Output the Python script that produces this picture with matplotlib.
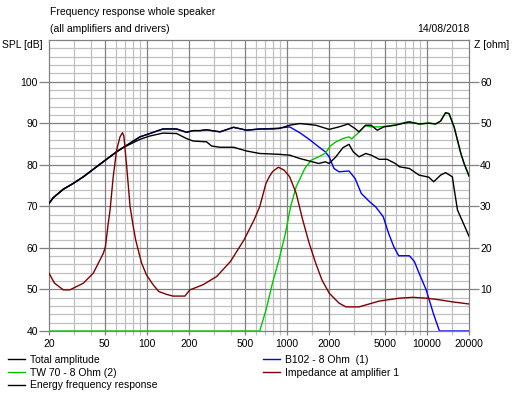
import numpy as np
import matplotlib
matplotlib.use("Agg")
import matplotlib.pyplot as plt
from matplotlib.lines import Line2D

# ---------------- data ----------------
# Total amplitude (dB)
total_f = [20, 21.5, 25.3, 29.8, 35.2, 41.4, 51.5, 60.8, 67.5, 89.2, 105, 130, 163, 192, 214, 240,
           267, 333, 416, 516, 640, 789, 878, 1047, 1236, 1607, 2006, 2360, 2740, 3070, 3280, 3660,
           4000, 4420, 4930, 5950, 7500, 8800, 10330, 11550, 12540, 13600, 14400, 15650, 16550,
           17490, 18450, 20000]
total_db = [70.7, 72.1, 74.1, 75.5, 77.1, 78.9, 81.3, 83.1, 84.1, 86.7, 87.5, 88.6, 88.6, 87.8, 88.2, 88.2,
            88.4, 87.9, 89.0, 88.3, 88.6, 88.6, 88.7, 89.5, 89.9, 89.5, 88.5, 89.1, 89.8, 88.7, 87.9, 89.5,
            89.5, 88.3, 89.1, 89.5, 90.3, 89.8, 90.0, 89.8, 90.5, 92.5, 92.3, 89.1, 85.9,
            82.7, 80.3, 77.3]

# Energy frequency response (dB)
energy_f = [20, 21.5, 25.3, 29.8, 35.2, 41.4, 51.5, 60.8, 67.5, 89.2, 105, 130, 163, 192, 214, 267,
            290, 333, 416, 516, 640, 757, 878, 1047, 1236, 1444, 1688, 1883, 2006, 2240, 2515, 2779,
            2980, 3280, 3660, 4000, 4570, 5200, 5950, 6370, 7500, 8800, 10330, 11190, 12540, 13600,
            15200, 15650, 16550, 18450, 20000]
energy_db = [70.7, 72.1, 74.1, 75.5, 77.1, 78.9, 81.3, 83.1, 84.1, 86.1, 86.9, 87.6, 87.5, 86.3, 85.7, 85.5,
             84.5, 84.2, 84.2, 83.3, 82.7, 82.6, 82.5, 82.3, 81.5, 80.9, 80.3, 80.7, 80.3, 81.9, 84.1, 84.9,
             83.1, 81.9, 82.7, 82.3, 81.3, 81.3, 80.3, 79.5, 79.1, 77.5, 77.0, 75.9, 77.5, 78.1,
             77.1, 74.3, 69.1, 65.5, 62.8]

# B102 - 8 Ohm (1) woofer (dB)
b102_f = [20, 21.5, 25.3, 29.8, 35.2, 41.4, 51.5, 60.8, 67.5, 89.2, 105, 130, 163, 192, 214, 240,
          267, 333, 416, 516, 640, 789, 878, 1047, 1236, 1444, 1688, 1883, 2006, 2170, 2360, 2779,
          3070, 3400, 3900, 4300, 4880, 5330, 5800, 6290, 7500, 8150, 8800, 9890, 11130, 12300, 20000]
b102_db = [70.7, 72.1, 74.1, 75.5, 77.1, 78.9, 81.3, 83.1, 84.1, 86.7, 87.5, 88.6, 88.6, 87.8, 88.2, 88.2,
           88.4, 87.9, 89.0, 88.3, 88.6, 88.7, 88.8, 89.1, 87.7, 86.1, 84.3, 83.1, 81.9, 79.1, 78.3, 78.5,
           76.7, 73.1, 71.1, 69.9, 67.5, 63.5, 60.3, 58.1, 58.1, 56.7, 53.9, 49.9, 44.2, 40.0, 40.0]

# TW 70 - 8 Ohm (2) tweeter (dB)
tw70_f = [20, 640, 709, 789, 878, 977, 1063, 1166, 1343, 1496, 1688, 1883, 2045, 2240, 2515, 2779,
          2900, 3200, 3600, 4000, 4570, 5300, 6000, 7000, 7500, 8800, 10330, 11550, 12540, 13600,
          14400, 15650, 16550, 17490, 18450, 20000]
tw70_db = [40.0, 40.0, 45.0, 51.5, 57.1, 63.5, 69.9, 74.7, 79.1, 81.1, 81.9, 82.8, 84.5, 85.5, 86.3, 86.7,
           86.2, 87.5, 89.4, 89.1, 89.1, 89.3, 89.6, 90.2, 90.3, 89.8, 90.0, 89.8, 90.5, 92.5,
           92.3, 89.1, 85.9, 82.7, 80.3, 77.3]

# Impedance at amplifier 1 (ohm)
imp_f = [20, 21.9, 25.3, 28.2, 35.2, 41.4, 45.0, 48.9, 50.6, 53.0, 54.6, 57.5, 60.8, 64.3, 67, 68.5,
         71.8, 75.9, 80, 83.2, 86.7, 91.8, 99.3, 111, 121.7, 138.5, 154, 187, 203, 251, 315, 395, 494,
         583, 640, 709, 749, 789, 838, 869, 956, 1047, 1166, 1298, 1444, 1607, 1780, 2006, 2360, 2640,
         3280, 4570, 6370, 7940, 9890, 12300, 15300, 20000]
imp_ohm = [13.9, 11.5, 9.9, 9.9, 11.5, 13.9, 16.3, 18.7, 20.3, 25.9, 29.1, 37.1, 43.5, 46.7, 47.7, 46.9,
           39.5, 29.9, 25.1, 21.9, 19.5, 16.3, 13.5, 11.1, 9.5, 8.8, 8.4, 8.4, 9.9, 11.1, 13.1, 16.7, 21.9,
           26.7, 29.9, 35.5, 37.1, 38.3, 39.0, 39.4, 38.7, 37.1, 33.1, 26.7, 21.1, 16.3, 12.3, 9.1, 6.7, 5.8,
           5.8, 7.2, 7.9, 8.1, 7.9, 7.5, 7.0, 6.5]

x_ticks = [20, 50, 100, 200, 500, 1000, 2000, 5000, 10000, 20000]
x_ticklabels = ["20", "50", "100", "200", "500", "1000", "2000", "5000", "10000", "20000"]
x_grid_minor = [30, 40, 60, 70, 80, 90, 150, 300, 400, 600, 700, 800, 900, 1500,
                3000, 4000, 6000, 7000, 8000, 9000, 15000]
spl_ticks = [40, 50, 60, 70, 80, 90, 100]
z_ticks = [10, 20, 30, 40, 50, 60]

legend_col1 = ["Total amplitude", "TW 70 - 8 Ohm (2)", "Energy frequency response"]
legend_col2 = ["B102 - 8 Ohm  (1)", "Impedance at amplifier 1"]

# ---------------- figure ----------------
W, H = 516, 396
plt.rcParams['font.family'] = ['Liberation Sans', 'DejaVu Sans']
FS = 7.5
fig = plt.figure(figsize=(W / 100, H / 100), dpi=100)
fig.patch.set_facecolor("white")

def fx(x):
    return x / W

def fy(y):
    return 1 - y / H

L, R, T, B = 49, 469, 40, 331
ax = fig.add_axes([fx(L), fy(B), fx(R) - fx(L), (B - T) / H])
ax.set_xscale("log")
ax.set_xlim(20, 20000)
ax.set_ylim(40, 110)

LIGHT = "#c0c0c0"
DARK = "#808080"
# grid
for v in x_grid_minor:
    ax.axvline(v, color=LIGHT, lw=0.9, zorder=0)
for v in x_ticks[1:-1]:
    ax.axvline(v, color=DARK, lw=0.9, zorder=0.5)
for v in range(42, 110, 2):
    if v % 10 != 0:
        ax.axhline(v, color=LIGHT, lw=0.9, zorder=0)
for v in range(50, 110, 10):
    ax.axhline(v, color=DARK, lw=0.9, zorder=0.5)

for s in ax.spines.values():
    s.set_color(DARK)
    s.set_linewidth(0.9)

ax.set_xticks(x_ticks)
ax.set_xticklabels(x_ticklabels, fontsize=FS)
ax.xaxis.set_minor_locator(matplotlib.ticker.FixedLocator(x_grid_minor))
ax.xaxis.set_minor_formatter(matplotlib.ticker.NullFormatter())
ax.tick_params(axis="x", which="major", length=3, width=0.9, color=DARK, pad=3)
ax.tick_params(axis="x", which="minor", length=3, width=0.9, color=LIGHT)
ax.set_yticks(spl_ticks)
ax.set_yticklabels([str(v) for v in spl_ticks], fontsize=FS)
ax.tick_params(axis="y", which="both", length=7, width=0.9, color=DARK, pad=1)
ax.yaxis.set_minor_locator(matplotlib.ticker.NullLocator())

lw = 1.0
ax.plot(b102_f, b102_db, color="#0000ff", lw=lw, zorder=2)
ax.plot(tw70_f, tw70_db, color="#00c800", lw=lw, zorder=2)
ax.plot(energy_f, energy_db, color="black", lw=lw, zorder=3)
ax.plot(total_f, total_db, color="black", lw=lw, zorder=3)

ax2 = ax.twinx()
ax2.set_ylim(0, 70)
ax2.set_xlim(20, 20000)
ax2.plot(imp_f, imp_ohm, color="#800000", lw=lw)
ax2.set_yticks(z_ticks)
ax2.set_yticklabels([str(v) for v in z_ticks], fontsize=FS)
ax2.tick_params(axis="y", length=7, width=0.9, color=DARK, pad=1)
for s in ax2.spines.values():
    s.set_visible(False)

# texts
fig.text(fx(50), fy(12), "Frequency response whole speaker", fontsize=FS, va="center", ha="left")
fig.text(fx(50), fy(29), "(all amplifiers and drivers)", fontsize=FS, va="center", ha="left")
fig.text(fx(470), fy(29), "14/08/2018", fontsize=FS, va="center", ha="right")
fig.text(fx(2), fy(45), "SPL [dB]", fontsize=FS, va="center", ha="left")
fig.text(fx(474), fy(45), "Z [ohm]", fontsize=FS, va="center", ha="left")

# legends
h1 = [Line2D([], [], color="black", lw=1), Line2D([], [], color="#00c800", lw=1),
      Line2D([], [], color="black", lw=1)]
h2 = [Line2D([], [], color="#0000ff", lw=1), Line2D([], [], color="#800000", lw=1)]
kw = dict(loc="upper left", frameon=False, fontsize=FS, handlelength=1.6, handletextpad=0.5,
          labelspacing=0.25, borderpad=0, borderaxespad=0)
fig.legend(h1, legend_col1, bbox_to_anchor=(fx(8), fy(355)), **kw)
fig.legend(h2, legend_col2, bbox_to_anchor=(fx(263), fy(355)), **kw)

fig.savefig("out.png", dpi=100, facecolor="white")
